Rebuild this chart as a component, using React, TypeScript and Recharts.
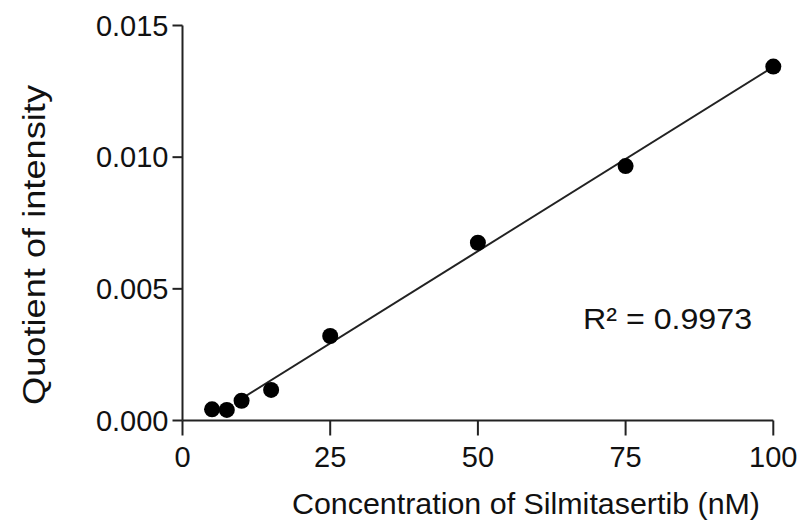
import React from 'react';
import { ScatterChart, Scatter, XAxis, YAxis, ReferenceDot } from 'recharts';

// measured points (nM vs quotient)
const concentrations = [5, 7.5, 10, 15, 25, 50, 75, 100];
const quotients = [0.000425, 0.0004, 0.00075, 0.00116, 0.00321, 0.00675, 0.00966, 0.01344];

// linear fit
const fitX = [10, 100];
const fitY = [0.00083, 0.01343];

const xTicks = [0, 25, 50, 75, 100];
const yTicks = [0, 0.005, 0.01, 0.015];

const r2Label = 'R² = 0.9973';
const r2Anchor = [67.8, 0.0035];

const FONT = '"Liberation Sans", Arial, Helvetica, sans-serif';
const INK = '#222';

const points = concentrations.map((x, i) => ({ x, y: quotients[i] }));
const fit = fitX.map((x, i) => ({ x, y: fitY[i] }));

const Dot = (props: any) => <circle cx={props.cx} cy={props.cy} r={8} fill="#000" />;
const NoDot = () => <g />;

const XTitle = ({ viewBox }: any) => (
  <text
    x={viewBox.x + 109.5}
    y={viewBox.y + 93.5}
    fill="#111"
    fontSize={30}
    fontFamily={FONT}
    textLength={468}
    lengthAdjust="spacingAndGlyphs"
  >
    Concentration of Silmitasertib (nM)
  </text>
);

const YTitle = () => (
  <text
    transform="translate(45,405) rotate(-90)"
    fill="#111"
    fontSize={32}
    fontFamily={FONT}
    textLength={320}
    lengthAdjust="spacingAndGlyphs"
  >
    Quotient of intensity
  </text>
);

const R2Text = ({ viewBox }: any) => (
  <text
    x={viewBox.x}
    y={viewBox.y + 1}
    fill="#111"
    fontSize={30}
    fontFamily={FONT}
    textLength={169}
    lengthAdjust="spacingAndGlyphs"
  >
    {r2Label}
  </text>
);

export default function App() {
  const tickStyle = { fill: '#111', fontSize: 29, fontFamily: FONT };
  return (
    <div style={{ position: 'absolute', left: 0, top: 0, background: '#fff' }}>
      <ScatterChart width={799} height={524} margin={{ top: 25.5, right: 25.7, bottom: 0, left: 0 }}>
        <XAxis
          type="number"
          dataKey="x"
          domain={[0, 100]}
          ticks={xTicks}
          height={103.5}
          tickSize={15}
          tickMargin={11}
          tick={tickStyle}
          axisLine={{ stroke: INK, strokeWidth: 2 }}
          tickLine={{ stroke: INK, strokeWidth: 2 }}
          label={{ content: XTitle }}
        />
        <YAxis
          type="number"
          dataKey="y"
          domain={[0, 0.015]}
          ticks={yTicks}
          width={182.5}
          tickSize={10}
          tickMargin={4}
          tick={tickStyle}
          tickFormatter={(v: number) => v.toFixed(3)}
          axisLine={{ stroke: INK, strokeWidth: 2 }}
          tickLine={{ stroke: INK, strokeWidth: 2 }}
          label={{ content: YTitle }}
        />
        <Scatter data={fit} line={{ stroke: INK, strokeWidth: 2 }} shape={NoDot} isAnimationActive={false} />
        <Scatter data={points} shape={Dot} isAnimationActive={false} />
        <ReferenceDot x={r2Anchor[0]} y={r2Anchor[1]} r={0} fill="none" stroke="none" label={{ content: R2Text }} />
      </ScatterChart>
    </div>
  );
}
